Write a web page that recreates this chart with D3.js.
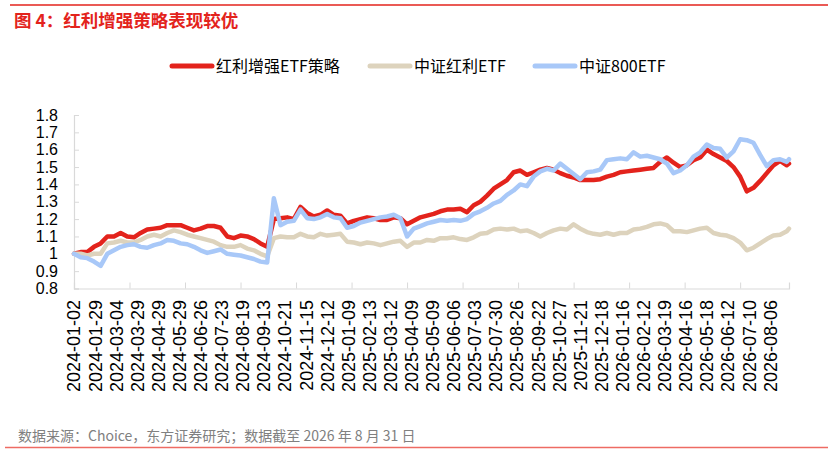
<!DOCTYPE html>
<html>
<head>
<meta charset="utf-8">
<script src="https://cdn.jsdelivr.net/npm/d3@7"></script>
<style>
  body { margin: 0; background: #fff; }
  .cn { font-family: "Noto Sans CJK SC", "Noto Sans", sans-serif; }
  .num { font-family: "Liberation Sans", Arial, sans-serif; }
</style>
</head>
<body>
<div id="chart"></div>
<script>
// Define SVG area dimensions
var svgWidth = 831;
var svgHeight = 453;

// Chart area (plot box) edges
var plot = { left: 74, right: 789, top: 115, bottom: 288.5 };

// Trading-day index of each sample (one sample every 6 trading days, last day 644)
var sampleDays = d3.range(0, 643, 6).concat([644]);

// Category labels shown on the x axis (every 19th trading day)
var dateLabels = [
  "2024-01-02", "2024-01-29", "2024-03-04", "2024-03-29", "2024-04-29", "2024-05-29",
  "2024-06-26", "2024-07-23", "2024-08-19", "2024-09-13", "2024-10-21", "2024-11-15",
  "2024-12-12", "2025-01-09", "2025-02-13", "2025-03-12", "2025-04-09", "2025-05-09",
  "2025-06-06", "2025-07-03", "2025-07-30", "2025-08-26", "2025-09-22", "2025-10-27",
  "2025-11-21", "2025-12-18", "2026-01-16", "2026-02-12", "2026-03-19", "2026-04-16",
  "2026-05-18", "2026-06-12", "2026-07-10", "2026-08-06"
];
var labelStep = 19;
var tickStep = 50;

// Y axis tick values and labels
var yTicks = [0.8, 0.9, 1.0, 1.1, 1.2, 1.3, 1.4, 1.5, 1.6, 1.7, 1.8];
var yTickLabels = ["0.8", "0.9", "1", "1.1", "1.2", "1.3", "1.4", "1.5", "1.6", "1.7", "1.8"];

// Series names
var seriesNames = ["红利增强ETF策略", "中证红利ETF", "中证800ETF"];

// 红利增强ETF策略
var strategyValues = [
  1.00, 1.01, 1.01, 1.04, 1.06, 1.10, 1.10, 1.12, 1.10, 1.095, 1.12, 1.14, 1.145, 1.15,
  1.165, 1.165, 1.165, 1.15, 1.135, 1.145, 1.16, 1.16, 1.15, 1.10, 1.09, 1.105, 1.10,
  1.085, 1.06, 1.04, 1.20, 1.205, 1.21, 1.20, 1.27, 1.235, 1.215, 1.225, 1.25, 1.225,
  1.22, 1.175, 1.19, 1.20, 1.21, 1.205, 1.195, 1.195, 1.21, 1.205, 1.17, 1.19, 1.21, 1.22,
  1.23, 1.245, 1.255, 1.255, 1.26, 1.24, 1.28, 1.30, 1.335, 1.375, 1.40, 1.425, 1.47,
  1.48, 1.455, 1.47, 1.485, 1.495, 1.485, 1.465, 1.45, 1.44, 1.425, 1.425, 1.425, 1.43, 1.445,
  1.455, 1.47, 1.475, 1.48, 1.485, 1.49, 1.495, 1.53, 1.555, 1.525, 1.50, 1.51, 1.54,
  1.555, 1.60, 1.575, 1.555, 1.535, 1.50, 1.445, 1.36, 1.38, 1.42, 1.465, 1.51, 1.535, 1.51, 1.52
];

// 中证红利ETF
var dividendValues = [
  1.00, 1.00, 0.99, 1.00, 1.00, 1.06, 1.065, 1.075, 1.065, 1.065, 1.08, 1.10, 1.11, 1.10,
  1.12, 1.135, 1.125, 1.11, 1.10, 1.09, 1.08, 1.07, 1.05, 1.04, 1.04, 1.05, 1.03,
  1.02, 1.00, 0.985, 1.09, 1.10, 1.095, 1.095, 1.115, 1.10, 1.095, 1.115, 1.105, 1.11,
  1.115, 1.07, 1.065, 1.055, 1.065, 1.06, 1.05, 1.06, 1.07, 1.075, 1.04, 1.065, 1.065, 1.08,
  1.075, 1.09, 1.09, 1.095, 1.085, 1.08, 1.095, 1.115, 1.12, 1.14, 1.145, 1.14, 1.145,
  1.13, 1.135, 1.12, 1.10, 1.12, 1.135, 1.145, 1.14, 1.17, 1.145, 1.125, 1.115, 1.11, 1.12,
  1.11, 1.12, 1.12, 1.14, 1.145, 1.155, 1.17, 1.175, 1.165, 1.13, 1.13, 1.125, 1.135,
  1.145, 1.15, 1.12, 1.11, 1.105, 1.09, 1.065, 1.02, 1.035, 1.06, 1.085, 1.105, 1.11, 1.13, 1.145
];

// 中证800ETF
var csi800Values = [
  1.00, 0.98, 0.975, 0.955, 0.93, 1.00, 1.02, 1.04, 1.05, 1.055, 1.04, 1.035, 1.05, 1.06,
  1.08, 1.075, 1.06, 1.055, 1.04, 1.02, 1.005, 1.015, 1.025, 1.00, 0.995, 0.99, 0.98,
  0.97, 0.955, 0.95, 1.32, 1.165, 1.185, 1.19, 1.255, 1.205, 1.20, 1.21, 1.23, 1.21,
  1.205, 1.15, 1.16, 1.18, 1.19, 1.20, 1.21, 1.215, 1.225, 1.205, 1.10, 1.145, 1.16, 1.175,
  1.185, 1.195, 1.19, 1.195, 1.19, 1.20, 1.23, 1.245, 1.265, 1.29, 1.305, 1.34, 1.365,
  1.40, 1.39, 1.445, 1.475, 1.49, 1.48, 1.52, 1.49, 1.46, 1.43, 1.47, 1.475, 1.485, 1.54,
  1.545, 1.55, 1.545, 1.585, 1.56, 1.565, 1.555, 1.545, 1.52, 1.465, 1.48, 1.51, 1.56,
  1.585, 1.63, 1.61, 1.605, 1.555, 1.59, 1.66, 1.655, 1.64, 1.57, 1.505, 1.54, 1.545, 1.53, 1.545
];

var colors = ["#e3231c", "#ddd3bd", "#a8c8f8"];

var svg = d3.select("#chart")
  .append("svg")
  .attr("width", svgWidth)
  .attr("height", svgHeight);

// Scales
var xScale = d3.scaleLinear()
  .domain([0, 644])
  .range([plot.left, plot.right]);

var yScale = d3.scaleLinear()
  .domain([0.8, 1.8])
  .range([plot.bottom, plot.top]);

// Top rule and title
svg.append("line")
  .attr("x1", 10).attr("x2", 828)
  .attr("y1", 5).attr("y2", 5)
  .attr("stroke", "#e3231c")
  .attr("stroke-width", 1.3);

svg.append("text")
  .attr("class", "cn")
  .attr("x", 14)
  .attr("y", 27)
  .attr("fill", "#e3231c")
  .attr("font-size", 17.5)
  .attr("font-weight", "bold")
  .text("图 4：红利增强策略表现较优");

// Legend
var legendX = [172, 370, 535];
var legend = svg.selectAll(".legend")
  .data(seriesNames)
  .enter()
  .append("g")
  .attr("class", "legend")
  .attr("transform", (d, i) => `translate(${legendX[i]}, 66)`);

legend.append("line")
  .attr("x1", 0).attr("x2", 40)
  .attr("stroke", (d, i) => colors[i])
  .attr("stroke-width", 5)
  .attr("stroke-linecap", "round");

legend.append("text")
  .attr("class", "cn")
  .attr("x", 44)
  .attr("dy", "0.35em")
  .attr("font-size", 16)
  .attr("fill", "#000")
  .text(d => d);

// Axes
var yAxis = d3.axisLeft(yScale)
  .tickValues(yTicks)
  .tickSize(-5)
  .tickPadding(16)
  .tickFormat((d, i) => yTickLabels[i]);

var yAxisGroup = svg.append("g")
  .attr("transform", `translate(${plot.left}, 0)`)
  .call(yAxis);

yAxisGroup.selectAll("text")
  .attr("class", "num")
  .attr("font-size", 16)
  .attr("fill", "#000");

var xAxis = d3.axisBottom(xScale)
  .tickValues(d3.range(0, 645, tickStep))
  .tickSize(-6)
  .tickFormat("");

svg.append("g")
  .attr("transform", `translate(0, ${plot.bottom})`)
  .call(xAxis);

svg.selectAll(".domain")
  .attr("stroke", "#d9d9d9")
  .attr("stroke-width", 1.2);
svg.selectAll(".tick line")
  .attr("stroke", "#d9d9d9");

// Rotated date labels
svg.append("g")
  .selectAll("text")
  .data(dateLabels)
  .enter()
  .append("text")
  .attr("class", "num")
  .attr("transform", (d, i) => `translate(${xScale(i * labelStep)}, 300) rotate(-90)`)
  .attr("text-anchor", "end")
  .attr("dy", "0.36em")
  .attr("font-size", 18)
  .attr("fill", "#000")
  .text(d => d);

// Lines (blue drawn last, on top)
var allSeries = [strategyValues, dividendValues, csi800Values];

var line = d3.line()
  .x((d, i) => xScale(sampleDays[i]))
  .y(d => yScale(d));

svg.append("g")
  .selectAll("path")
  .data(allSeries)
  .enter()
  .append("path")
  .attr("d", d => line(d))
  .attr("fill", "none")
  .attr("stroke", (d, i) => colors[i])
  .attr("stroke-width", 4.5)
  .attr("stroke-linejoin", "round")
  .attr("stroke-linecap", "round");

// Source note and bottom rule
svg.append("text")
  .attr("class", "cn")
  .attr("x", 18)
  .attr("y", 441)
  .attr("font-size", 14)
  .attr("fill", "#808080")
  .text("数据来源：Choice，东方证券研究；数据截至 2026 年 8 月 31 日");

svg.append("line")
  .attr("x1", 5).attr("x2", 828)
  .attr("y1", 447.5).attr("y2", 447.5)
  .attr("stroke", "#ee6b63")
  .attr("stroke-width", 1.3);
</script>
</body>
</html>
